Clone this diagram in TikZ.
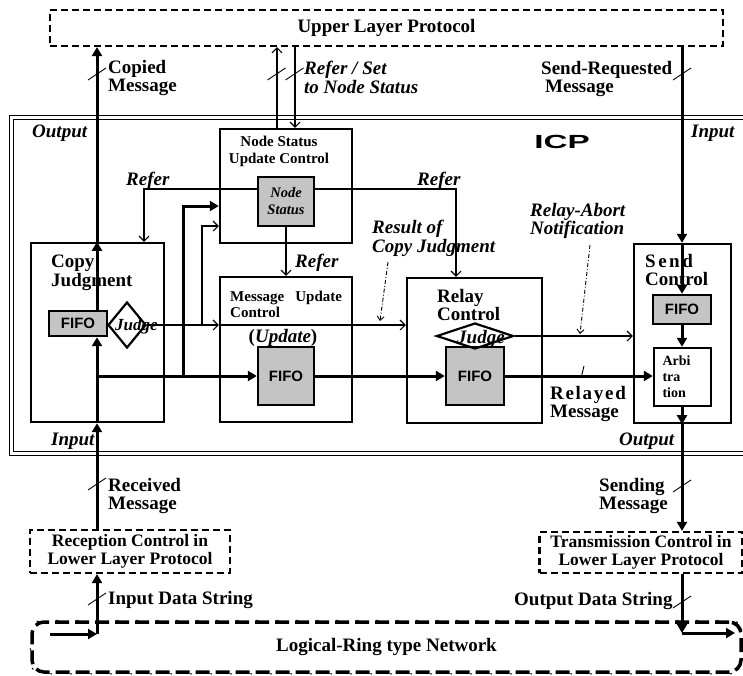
\documentclass[tikz,border=0pt]{standalone}
\usepackage{fontspec}
\setmainfont{Liberation Serif}
\setsansfont{Liberation Sans}
\usepackage{graphicx}
\usetikzlibrary{arrows.meta,calc,positioning,shapes.geometric}
\definecolor{FifoGray}{HTML}{C4C4C4}
\newcommand{\bigfont}{\fontsize{19}{18.5}\selectfont\bfseries}
\newcommand{\midfont}{\fontsize{15}{17}\selectfont\bfseries}
\newcommand{\fifofont}{\fontsize{15}{17}\selectfont\sffamily\bfseries}

\begin{document}
\begin{tikzpicture}[
    x=1pt, y=-1pt,
    box/.style={draw, line width=2.4pt, inner sep=0pt},
    fifo/.style={box, fill=FifoGray, font=\fifofont},
    judgebox/.style={draw, diamond, line width=2.2pt, inner sep=0pt},
    dashbox/.style={draw, line width=2.2pt, dash pattern=on 7pt off 4pt, align=center,
        font={\fontsize{17.5}{18}\selectfont\bfseries}},
    bigflow/.style={line width=3pt, -{Triangle[length=9pt,width=10pt]}},
    flow/.style={line width=1.1pt, -{Straight Barb[length=5pt,width=10pt]}},
    leader/.style={line width=0.9pt, dash pattern=on 4pt off 2pt on 1pt off 2pt,
        -{Straight Barb[length=4pt,width=7pt]}},
    lbl/.style={inner sep=0pt, align=left, font=\bigfont},
    ilbl/.style={lbl, font={\bigfont\itshape}},
    tickmark/.style={line width=0.9pt}
]
\useasboundingbox (0,0) rectangle (743,675);

% upper layer and ICP frame
\node[dashbox, minimum width=673pt, minimum height=36pt, font=\bigfont] (upl) at (386.5,28) {Upper Layer Protocol};
\draw[double, double distance=2.4pt, line width=1pt] (750,117.5) -| (11.5,453.5) -- (750,453.5);
\node[inner sep=0pt, font={\fontsize{19}{19}\selectfont\sffamily\bfseries}] (icp) at (562,142) {\scalebox{1.75}[1]{ICP}};

% copy judgment
\node[box, minimum width=133pt, minimum height=179pt] (copy) at (97.5,332.5) {};
\node[lbl, anchor=north west, font={\fontsize{19}{17}\selectfont\bfseries}] (copylbl) at (51,255) {Copy\\Judgment};
\node[fifo, minimum width=58pt, minimum height=25pt] (cfifo) at (78,323.5) {FIFO};
\node[judgebox, minimum width=38pt, minimum height=46pt] (cjudge) at (127,325) {};
\node[inner sep=0pt, anchor=base west, font={\fontsize{17}{17}\selectfont\bfseries\itshape}] (cjudgelbl) at (115,330) {Judge};

% node status update control
\node[box, minimum width=132pt, minimum height=114pt] (nsuc) at (286,186) {};
\node[inner sep=0pt, align=center, font=\midfont] (nsuclbl) at (279,151) {Node Status\\Update Control};
\node[fifo, minimum width=56pt, minimum height=49pt, align=center,
    font={\fontsize{14.5}{17}\selectfont\bfseries\itshape}] (nstat) at (286,201.5) {Node\\Status};

% message update control
\node[box, minimum width=132pt, minimum height=145pt] (muc) at (286,349.5) {};
\node[lbl, anchor=north west, font={\fontsize{15}{15.5}\selectfont\bfseries}] (muclbl) at (230,291) {Message\hspace{11pt}Update\\Control};
\node[inner sep=0pt, anchor=base, font=\bigfont] (updlbl) at (283,342) {(\textit{Update})};
\node[fifo, minimum width=56pt, minimum height=58pt] (mfifo) at (286,376) {FIFO};

% relay control
\node[box, minimum width=135pt, minimum height=145pt] (relay) at (474.5,350.5) {};
\node[lbl, anchor=north west, font={\fontsize{19}{17}\selectfont\bfseries}] (relaylbl) at (437,289) {Relay\\Control};
\node[fifo, minimum width=58pt, minimum height=58pt] (rfifo) at (475,376) {FIFO};
\node[judgebox, minimum width=77pt, minimum height=26pt] (rjudge) at (475,336) {};
\node[inner sep=0pt, anchor=base west, font={\bigfont\itshape}] (rjudgelbl) at (457,343) {Judge};

% send control
\node[box, minimum width=97pt, minimum height=179pt] (send) at (682.5,333.5) {};
\node[lbl, anchor=north west] (sendlbl) at (645,254) {S\hspace{2.5pt}e\hspace{2.5pt}n\hspace{2.5pt}d\\Control};
\node[fifo, minimum width=58pt, minimum height=29pt] (sfifo) at (682,309.5) {FIFO};
\node[box, minimum width=57pt, minimum height=58pt, align=left, text width=40pt,
    font={\fontsize{14}{16}\selectfont\bfseries}] (arbi) at (682.5,377) {Arbi\\tra\\tion};

% lower layer and ring
\node[dashbox, minimum width=200pt, minimum height=43pt] (recv) at (130,551.5) {Reception Control in\\Lower Layer Protocol};
\node[dashbox, minimum width=203pt, minimum height=41pt] (trans) at (641,552.5) {Transmission Control in\\Lower Layer Protocol};
\node[draw, rounded corners=12pt, line width=3.5pt, dash pattern=on 14pt off 6pt,
    minimum width=709pt, minimum height=50pt, font=\bigfont] (ring) at (386.5,647) {Logical-Ring type Network};
\draw[line width=1pt, rounded corners=12pt, dash pattern=on 2pt off 18pt, dash phase=-16pt]
    (ring.north west) rectangle (ring.south east);

% main message paths
\coordinate (inx) at (97,0);
\coordinate (outx) at (682,0);
\foreach \a/\b in {recv.north/copy.south, copy.south/cfifo.south, cfifo.north/copy.north, copy.north/upl.south}
    \draw[bigflow] (\a -| inx) -- (\b -| inx);
\foreach \a/\b in {upl.south/send.north, send.north/sfifo.north, sfifo.south/arbi.north, arbi.south/send.south, send.south/trans.north}
    \draw[bigflow] (\a -| outx) -- (\b -| outx);
\coordinate (ringin) at (50,634);
\coordinate (ringout) at (735,633);
\draw[bigflow] (ringin) -- (ringin -| inx);
\draw[bigflow] (ringin -| inx) -- (recv.south -| inx);
\draw[bigflow] (trans.south -| outx) -- (ringout -| outx);
\draw[bigflow] (ringout -| outx) -- (ringout);

% relayed message
\coordinate (thk) at (183,206);
\draw[bigflow] (inx |- mfifo.west) -- (mfifo.west);
\draw[bigflow] (thk |- mfifo.west) -- (thk) -- (nsuc.west |- thk);
\draw[bigflow] (mfifo.east) -- (rfifo.west);
\draw[bigflow] (rfifo.east) -- (arbi.west |- rfifo.east);

% judgment results
\coordinate (thn) at (202,226);
\draw[flow] (cjudge.east) -- (muc.west |- cjudge.east);
\draw[flow] (muc.west |- cjudge.east) -- (relay.west |- cjudge.east);
\draw[flow] (thn |- cjudge.east) -- (thn) -- (nsuc.west |- thn);
\draw[flow] (rjudge.east) -- (send.west |- rjudge.east);

% refer node status
\coordinate (refl) at (144,189);
\coordinate (refr) at (456,189);
\draw[flow] (nstat.west |- refl) -| (copy.north -| refl);
\draw[flow] (nstat.east |- refr) -| (relay.north -| refr);
\draw[flow] (nstat.south) -- (muc.north -| nstat.south);
\coordinate (rsup) at (277,0);
\coordinate (rsdn) at (295,0);
\draw[flow] (nsuc.north -| rsup) -- (upl.south -| rsup);
\draw[flow] (upl.south -| rsdn) -- (nsuc.north -| rsdn);

% leaders
\coordinate (rescj) at (388,262);
\coordinate (rescjend) at (380,321);
\coordinate (abort) at (590,245);
\coordinate (abortend) at (580,334);
\draw[leader] (rescj) -- (rescjend);
\draw[leader] (abort) -- (abortend);
\coordinate (relayedtick) at (581,378);
\coordinate (relayedline) at (584,366);
\draw[tickmark] (relayedtick) -- (relayedline);
\foreach \tx/\ty in {97/74, 276.5/74, 294.5/74, 682/74, 97/484, 97/599, 682/486, 682/602}
    \draw[tickmark] (\tx-9,\ty+6) -- (\tx+9,\ty-6);

% labels
\node[lbl, anchor=north west] (copiedlbl) at (108,60) {Copied\\Message};
\node[ilbl, anchor=north west] (rslbl) at (304,61) {Refer / Set\\to Node Status};
\node[lbl, anchor=north west] (sendreqlbl) at (541,61) {Send-Requested\\\hspace{4pt}Message};
\node[ilbl, anchor=north west] (outl) at (32,125) {Output};
\node[ilbl, anchor=north west] (inr) at (691,125) {Input};
\node[ilbl, anchor=base west] (referl) at (126,185) {Refer};
\node[ilbl, anchor=base west] (referr) at (417,185) {Refer};
\node[ilbl, anchor=base west] (referm) at (295,267) {Refer};
\node[ilbl, anchor=north west] (rescjlbl) at (372,220) {Result of\\Copy Judgment};
\node[ilbl, anchor=north west] (abortlbl) at (530,203) {Relay-Abort\\Notification};
\node[lbl, anchor=north west] (relayedlbl) at (550,386) {R\hspace{1.7pt}e\hspace{1.7pt}l\hspace{1.7pt}a\hspace{1.7pt}y\hspace{1.7pt}e\hspace{1.7pt}d\\Message};
\node[ilbl, anchor=base west] (inl) at (51,445) {Input};
\node[ilbl, anchor=base west] (outr) at (619,445) {Output};
\node[lbl, anchor=north west] (recvlbl) at (108,478) {Received\\Message};
\node[lbl, anchor=base west] (indatalbl) at (108,604) {Input Data String};
\node[lbl, anchor=north west] (sendinglbl) at (599,478) {Sending\\Message};
\node[lbl, anchor=base west] (outdatalbl) at (514,605) {Output Data String};
\end{tikzpicture}
\end{document}
